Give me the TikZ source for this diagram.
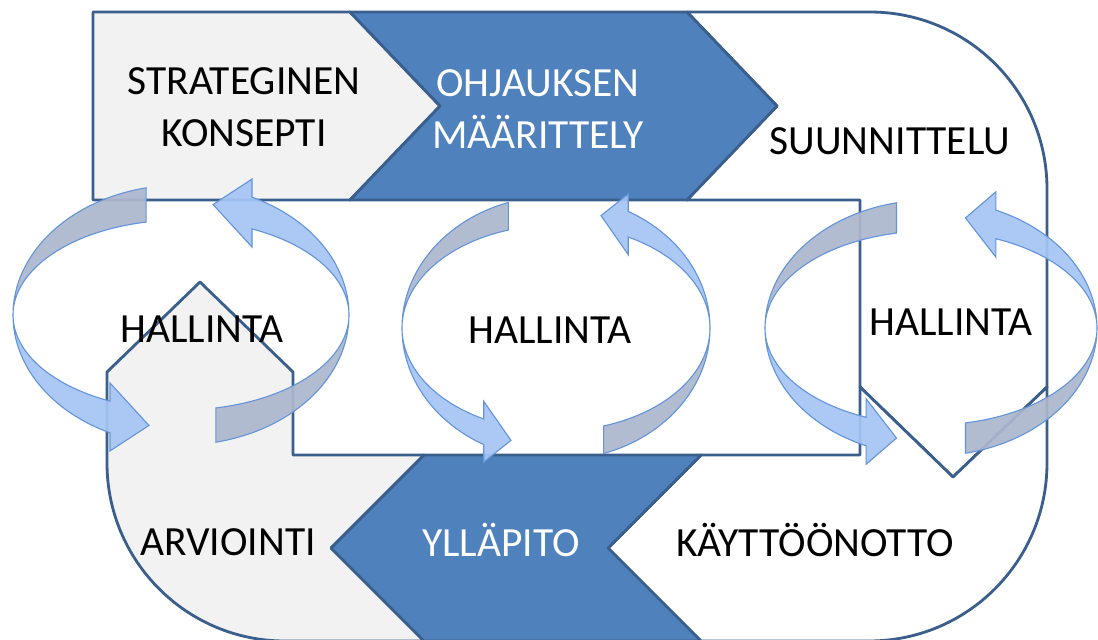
\documentclass[tikz,border=0pt]{standalone}
\usepackage{fontspec}
\setmainfont{Carlito}
\definecolor{framecol}{HTML}{3A5F8C}
\definecolor{chevblue}{HTML}{4F81BD}
\definecolor{panelgray}{HTML}{F2F2F2}
\definecolor{ribbonblue}{HTML}{A6C5F5}
\definecolor{ribbongray}{HTML}{ACB7CD}
\definecolor{ribbonedge}{HTML}{6495DA}

\begin{document}
\begin{tikzpicture}[
    x=0.025cm, y=-0.025cm,
    font=\fontsize{29.5}{37}\selectfont,
    outline/.style={draw=framecol, line width=2pt, line join=round},
    panel/.style={outline, fill=panelgray},
    chevron/.style={outline, fill=chevblue},
    plainshape/.style={outline, fill=white},
    stagetext/.style={align=center, text=black, inner sep=0pt},
    stagewhite/.style={stagetext, text=white},
    ribbonback/.style={draw=ribbonedge, line width=0.8pt, fill=ribbongray, fill opacity=0.92},
    ribbonfront/.style={draw=ribbonedge, line width=0.8pt, fill=ribbonblue, fill opacity=0.92}
]

\clip (0,0) rectangle (1098,639);
\fill[white] (0,0) rectangle (1098,639);

% Top band
\draw[panel] (93,12) -- (350,12) -- (440,106) -- (350,200) -- (93,200) -- cycle;
\draw[plainshape] (687,12) -- (870,12) arc[start angle=-90, end angle=0, radius=177] -- (1047,387) -- (953,477) -- (860,387) -- (860,200) -- (687,200) -- (777,106) -- cycle;
\draw[chevron] (350,12) -- (687,12) -- (777,106) -- (687,200) -- (350,200) -- (440,106) -- cycle;

% Bottom band
\draw[panel] (424,455) -- (293,455) -- (293,372) -- (200,282) -- (107,372) -- (107,463) arc[start angle=180, end angle=90, radius=178] -- (424,641) -- (331,548) -- cycle;
\draw[plainshape] (701,455) -- (860,455) -- (860,387) -- (953,477) -- (1047,387) -- (1047,463) arc[start angle=0, end angle=90, radius=178] -- (701,641) -- (608,548) -- cycle;
\draw[chevron] (424,455) -- (701,455) -- (608,548) -- (701,641) -- (424,641) -- (331,548) -- cycle;

% Stage labels
\node[stagetext] (strategy) at (244,107.5) {STRATEGINEN\\KONSEPTI};
\node[stagewhite] (steering) at (538,109.5) {OHJAUKSEN\\MÄÄRITTELY};
\node[stagetext, anchor=base] (planning) at (890,154) {SUUNNITTELU};
\node[stagetext, anchor=base] (deploy) at (815,556) {KÄYTTÖÖNOTTO};
\node[stagewhite, anchor=base] (upkeep) at (501,556) {YLLÄPITO};
\node[stagetext, anchor=base] (review) at (228,555) {ARVIOINTI};

% Hallinta loops
\foreach \cx/\cy/\rx/\ro/\ri/\ta/\tb/\tt in {181/315/168/130/95/258/115/101, 556/328/154/132/103/252/118/107, 931/328/166/128/97/258/113/102}{
  \pgfmathsetmacro\rob{\ro+20}
  \pgfmathsetmacro\rib{\ri-20}
  \pgfmathsetmacro\rmid{(\ro+\ri)/2}
  \foreach \turn in {0,180}{
    \begin{scope}[shift={(\cx,\cy)}, rotate=\turn]
      \filldraw[ribbonback] ({\rx*cos(\ta)},{\ro*sin(\ta)}) arc[start angle=\ta, end angle=180, x radius=\rx, y radius=\ro]
        arc[start angle=180, end angle=\ta, x radius=\rx, y radius=\ri] -- cycle;
      \filldraw[ribbonfront] (-\rx,0) arc[start angle=180, end angle=\tb, x radius=\rx, y radius=\ro]
        -- ({\rx*cos(\tb)},{\rob*sin(\tb)}) -- ({\rx*cos(\tt)},{\rmid*sin(\tt)})
        -- ({\rx*cos(\tb)},{\rib*sin(\tb)}) -- ({\rx*cos(\tb)},{\ri*sin(\tb)})
        arc[start angle=\tb, end angle=180, x radius=\rx, y radius=\ri] -- cycle;
    \end{scope}
  }
}

\node[stagetext, anchor=base] (control1) at (202,342) {HALLINTA};
\node[stagetext, anchor=base] (control2) at (550,343) {HALLINTA};
\node[stagetext, anchor=base] (control3) at (951,335) {HALLINTA};

\end{tikzpicture}
\end{document}
